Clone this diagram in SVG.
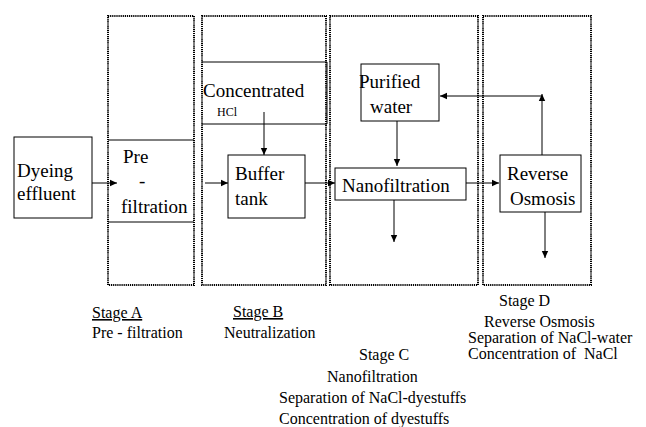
<svg xmlns="http://www.w3.org/2000/svg" width="646" height="427" viewBox="0 0 646 427" font-family="'Times New Roman', Times, 'Liberation Serif', 'DejaVu Serif', serif">
<defs>
<marker id="ah" markerWidth="8" markerHeight="8" refX="7" refY="4" orient="auto" markerUnits="userSpaceOnUse">
<path d="M0,0.8 L7,4 L0,7.2 Z" fill="#000"/>
</marker>
<style>
.stage{fill:none;stroke:#000;stroke-width:2;stroke-dasharray:1.2 0.9}
.box{fill:#fff;stroke:#000;stroke-width:1}
.ln{fill:none;stroke:#000;stroke-width:1}
.arr{fill:none;stroke:#000;stroke-width:1;marker-end:url(#ah)}
.t{font-family:'Times New Roman',Times,'Liberation Serif','DejaVu Serif',serif;font-size:19px;fill:#000}
.s{font-family:'Times New Roman',Times,'Liberation Serif','DejaVu Serif',serif;font-size:16px;fill:#000}
.h{font-family:'Times New Roman',Times,'Liberation Serif','DejaVu Serif',serif;font-size:12px;fill:#000}
.u{text-decoration:underline}
</style>
</defs>
<rect width="646" height="427" fill="#fff"/>
<g id="stages">
<rect class="stage" x="108" y="16" width="86" height="269"/>
<rect class="stage" x="202" y="16" width="124" height="269"/>
<rect class="stage" x="330" y="16" width="148" height="269"/>
<rect class="stage" x="483" y="16" width="108" height="269"/>
</g>
<g id="dyeing">
<rect class="box" x="14" y="137" width="78" height="81"/>
<text class="t" x="17" y="177">Dyeing</text>
<text class="t" x="17" y="200">effluent</text>
</g>
<g id="prefiltration">
<line class="ln" x1="108" y1="140" x2="194" y2="140"/>
<line class="ln" x1="108" y1="222" x2="194" y2="222"/>
<text class="t" x="123" y="163">Pre</text>
<text class="t" x="139" y="187">-</text>
<text class="t" x="121" y="213">filtration</text>
</g>
<g id="hcl">
<line class="ln" x1="202" y1="62" x2="327" y2="62"/>
<line class="ln" x1="202" y1="124" x2="327" y2="124"/>
<line class="ln" x1="327" y1="62" x2="327" y2="124"/>
<text class="t" x="203" y="97">Concentrated</text>
<text class="h" x="217" y="116">HCl</text>
</g>
<g id="buffer">
<rect class="box" x="228" y="155" width="77" height="63"/>
<text class="t" x="235" y="180">Buffer</text>
<text class="t" x="235" y="205">tank</text>
</g>
<g id="purified">
<rect class="box" x="361" y="64" width="78" height="57"/>
<text class="t" x="359" y="88">Purified</text>
<text class="t" x="370" y="113">water</text>
</g>
<g id="nano">
<rect class="box" x="335" y="168" width="131" height="32"/>
<text class="t" x="342" y="192">Nanofiltration</text>
</g>
<g id="ro">
<rect class="box" x="500" y="155" width="81" height="57"/>
<text class="t" x="507" y="180">Reverse</text>
<text class="t" x="510" y="205">Osmosis</text>
</g>
<g id="connectors">
<line class="arr" x1="92" y1="183" x2="117" y2="183"/>
<line class="arr" x1="205" y1="183" x2="228" y2="183"/>
<line class="arr" x1="305" y1="183" x2="335" y2="183"/>
<line class="arr" x1="466" y1="183" x2="499" y2="183"/>
<line class="arr" x1="264" y1="112" x2="264" y2="155"/>
<line class="arr" x1="397" y1="121" x2="397" y2="166"/>
<line class="arr" x1="394" y1="200" x2="394" y2="242"/>
<line class="arr" x1="545" y1="212" x2="545" y2="258"/>
<line class="arr" x1="542" y1="155" x2="542" y2="94"/>
<line class="arr" x1="542" y1="96" x2="440" y2="96"/>
</g>
<g id="labels">
<text class="s u" x="92" y="318">Stage A</text>
<text class="s" x="92" y="338">Pre - filtration</text>
<text class="s u" x="233" y="317">Stage B</text>
<text class="s" x="224" y="338">Neutralization</text>
<text class="s" x="359" y="360">Stage C</text>
<text class="s" x="327" y="382">Nanofiltration</text>
<text class="s" x="279" y="403">Separation of NaCl-dyestuffs</text>
<text class="s" x="279" y="424">Concentration of dyestuffs</text>
<text class="s" x="499" y="306">Stage D</text>
<text class="s" x="484" y="327">Reverse Osmosis</text>
<text class="s" x="468" y="343">Separation of NaCl-water</text>
<text class="s" x="468" y="359" xml:space="preserve">Concentration of  NaCl</text>
</g>
</svg>
